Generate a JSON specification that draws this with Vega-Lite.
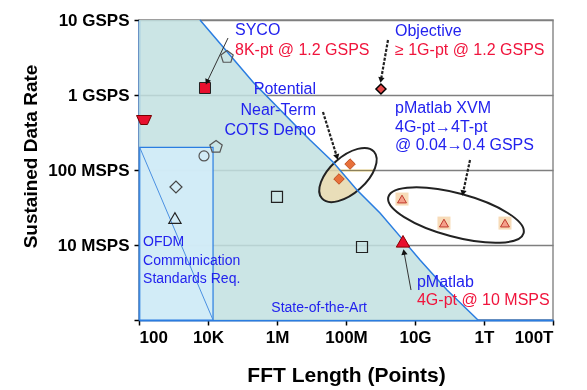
{
  "$schema": "https://vega.github.io/schema/vega-lite/v6.json",
  "width": 414,
  "height": 300,
  "autosize": "none",
  "padding": {"left": 139, "top": 20, "right": 34, "bottom": 70},
  "background": "white",
  "config": {
    "view": {"stroke": "#8c8c8c", "strokeWidth": 1.5},
    "font": "Liberation Sans"
  },
  "encoding": {
    "x": {
      "field": "x", "type": "quantitative",
      "scale": {"type": "log", "domain": [100, 1e14]},
      "axis": {
        "values": [1e2, 1e4, 1e6, 1e8, 1e10, 1e12, 1e14],
        "labelExpr": "['100','10K','1M','100M','10G','1T','100T'][round(log(datum.value)/LN10/2)-1]",
        "grid": false,
        "domainColor": "#2a7de1", "domainWidth": 2,
        "tickColor": "black", "tickSize": 5, "tickWidth": 1.5,
        "labelFont": "Liberation Sans", "labelFontWeight": "bold", "labelFontSize": 17, "labelColor": "black", "labelPadding": 4,
        "title": "FFT Length (Points)",
        "titleFont": "Liberation Sans", "titleFontWeight": "bold", "titleFontSize": 21, "titleColor": "black",
        "titleX": 207, "titleY": 55, "titleBaseline": "middle", "titleAlign": "center"
      }
    },
    "y": {
      "field": "y", "type": "quantitative",
      "scale": {"type": "log", "domain": [1e6, 1e10]},
      "axis": {
        "values": [1e6, 1e7, 1e8, 1e9, 1e10],
        "labelExpr": "['','10 MSPS','100 MSPS','1 GSPS','10 GSPS'][round(log(datum.value)/LN10)-6]",
        "grid": true, "gridColor": "#7f7f7f", "gridWidth": 1.5,
        "domainColor": "#2a7de1", "domainWidth": 2,
        "tickColor": "black", "tickSize": 5, "tickWidth": 1.5,
        "labelFont": "Liberation Sans", "labelFontWeight": "bold", "labelFontSize": 17, "labelColor": "black", "labelPadding": 5,
        "title": "Sustained Data Rate",
        "titleFont": "Liberation Sans", "titleFontWeight": "bold", "titleFontSize": 19, "titleColor": "black",
        "titleX": -109, "titleY": 136, "titleBaseline": "middle", "titleAlign": "center", "titleAngle": -90
      }
    }
  },
  "layer": [
    {
      "data": {"values": [
        {"x": 100, "y": 1e10}, {"x": 5.86e3, "y": 1e10}, {"x": 2.01e5, "y": 1.49e9}, {"x": 3.33e6, "y": 3.98e8},
        {"x": 9.06e6, "y": 2.51e8}, {"x": 4.2e7, "y": 1.28e8}, {"x": 2.08e8, "y": 5.41e7}, {"x": 9.68e8, "y": 2.67e7},
        {"x": 4.49e9, "y": 1.17e7}, {"x": 1.4e10, "y": 6.31e6}, {"x": 8.47e10, "y": 2.51e6}, {"x": 6.7e11, "y": 1e6}
      ]},
      "mark": {"type": "area", "fill": "#c2e0e0", "opacity": 0.85},
      "encoding": {"y2": {"datum": 1e6}}
    },
    {
      "data": {"values": [{"x": 105, "x2": 1.4e4, "y": 2e8, "y2": 1e6}]},
      "mark": {"type": "rect", "fill": "#d3ecf8", "fillOpacity": 0.9, "stroke": "#2a7de1", "strokeWidth": 1.2},
      "encoding": {"x2": {"field": "x2"}, "y2": {"field": "y2"}}
    },
    {
      "data": {"values": [{"x": 105, "y": 2e8}, {"x": 1.4e4, "y": 1e6}]},
      "mark": {"type": "line", "stroke": "#4a90e2", "strokeWidth": 1},
      "encoding": {}
    },
    {
      "data": {"values": [{"x": 1.14e8, "y": 8.57e7}]},
      "mark": {"type": "point", "shape": "M -1 0 A 1 0.52 0 1 1 1 0 A 1 0.52 0 1 1 -1 0 Z", "size": 4900, "angle": 318, "filled": true, "fill": "#c8bd98", "fillOpacity": 1, "strokeWidth": 0, "opacity": 1, "blend": "color"},
      "encoding": {}
    },
    {
      "data": {"values": [{"x": 1.14e8, "y": 8.57e7}]},
      "mark": {"type": "point", "shape": "M -1 0 A 1 0.52 0 1 1 1 0 A 1 0.52 0 1 1 -1 0 Z", "size": 4900, "angle": 318, "filled": false, "stroke": "#222", "strokeWidth": 2, "opacity": 1},
      "encoding": {}
    },
    {
      "data": {"values": [
        {"x": 5.86e3, "y": 1e10}, {"x": 2.01e5, "y": 1.49e9}, {"x": 3.33e6, "y": 3.98e8},
        {"x": 9.06e6, "y": 2.51e8}, {"x": 4.2e7, "y": 1.28e8}, {"x": 2.08e8, "y": 5.41e7}, {"x": 9.68e8, "y": 2.67e7},
        {"x": 4.49e9, "y": 1.17e7}, {"x": 1.4e10, "y": 6.31e6}, {"x": 8.47e10, "y": 2.51e6}, {"x": 6.7e11, "y": 1e6}
      ]},
      "mark": {"type": "line", "stroke": "#2a7de1", "strokeWidth": 1.5},
      "encoding": {}
    },
    {
      "data": {"values": [{"x": 1.54e11, "y": 2.51e7}]},
      "mark": {"type": "point", "shape": "M -1 0 A 1 0.31 0 1 1 1 0 A 1 0.31 0 1 1 -1 0 Z", "size": 19600, "angle": 15, "filled": false, "stroke": "#222", "strokeWidth": 2, "opacity": 1},
      "encoding": {}
    },
    {
      "data": {"values": [{"x": 4.2e9, "y": 4.1e7}, {"x": 6.92e10, "y": 1.96e7}, {"x": 4.06e12, "y": 1.96e7}]},
      "mark": {"type": "point", "shape": "square", "size": 169, "filled": true, "fill": "#f7dbb8", "opacity": 1},
      "encoding": {}
    },
    {
      "data": {"values": [{"x": 4.2e9, "y": 4.1e7}, {"x": 6.92e10, "y": 1.96e7}, {"x": 4.06e12, "y": 1.96e7}]},
      "mark": {"type": "point", "shape": "triangle-up", "size": 80, "filled": true, "fill": "#f4a08a", "stroke": "#c0392b", "strokeWidth": 1, "opacity": 1},
      "encoding": {}
    },
    {
      "data": {"values": [{"x": 1.31e8, "y": 1.2e8}, {"x": 6.27e7, "y": 7.59e7}]},
      "mark": {"type": "point", "shape": "diamond", "size": 110, "filled": true, "fill": "#e8703a", "stroke": "#c05020", "strokeWidth": 1, "opacity": 1},
      "encoding": {}
    },
    {
      "data": {"values": [{"x": 1.03e9, "y": 1.2e9}]},
      "mark": {"type": "point", "shape": "diamond", "size": 100, "filled": true, "fill": "#e84a4a", "stroke": "black", "strokeWidth": 1.5, "opacity": 1},
      "encoding": {}
    },
    {
      "data": {"values": [{"x": 8.18e3, "y": 1.24e9}]},
      "mark": {"type": "point", "shape": "square", "size": 121, "filled": true, "fill": "#e8102e", "stroke": "#222", "strokeWidth": 1, "opacity": 1},
      "encoding": {}
    },
    {
      "data": {"values": [{"x": 140, "y": 4.64e8}]},
      "mark": {"type": "point", "shape": "M -1 -0.6 L 1 -0.6 L 0.45 0.6 L -0.45 0.6 Z", "size": 225, "filled": true, "fill": "#e8102e", "stroke": "#700", "strokeWidth": 1, "opacity": 1},
      "encoding": {}
    },
    {
      "data": {"values": [{"x": 4.49e9, "y": 1.12e7}]},
      "mark": {"type": "point", "shape": "triangle-up", "size": 180, "filled": true, "fill": "#e8102e", "stroke": "#800", "strokeWidth": 1, "opacity": 1},
      "encoding": {}
    },
    {
      "data": {"values": [{"x": 3.56e4, "y": 3.21e9}, {"x": 1.71e4, "y": 2.03e8}]},
      "mark": {"type": "point", "shape": "M 0 -1 L 0.951 -0.309 L 0.588 0.809 L -0.588 0.809 L -0.951 -0.309 Z", "size": 169, "filled": false, "stroke": "#555", "strokeWidth": 1.2, "opacity": 1},
      "encoding": {}
    },
    {
      "data": {"values": [{"x": 7.66e3, "y": 1.54e8}]},
      "mark": {"type": "point", "shape": "circle", "size": 100, "filled": false, "stroke": "#555", "strokeWidth": 1.2, "opacity": 1},
      "encoding": {}
    },
    {
      "data": {"values": [{"x": 1.18e3, "y": 5.93e7}]},
      "mark": {"type": "point", "shape": "diamond", "size": 144, "filled": false, "stroke": "#444", "strokeWidth": 1.2, "opacity": 1},
      "encoding": {}
    },
    {
      "data": {"values": [{"x": 1.10e3, "y": 2.29e7}]},
      "mark": {"type": "point", "shape": "triangle-up", "size": 150, "filled": false, "stroke": "#222", "strokeWidth": 1.2, "opacity": 1},
      "encoding": {}
    },
    {
      "data": {"values": [{"x": 1e6, "y": 4.37e7}, {"x": 2.91e8, "y": 9.4e6}]},
      "mark": {"type": "point", "shape": "square", "size": 121, "filled": false, "stroke": "#222", "strokeWidth": 1.2, "opacity": 1},
      "encoding": {}
    },
    {
      "data": {"values": [
        {"x": 1.65e9, "y": 5.41e9, "x2": 1.03e9, "y2": 1.58e9},
        {"x": 2.15e7, "y": 5.93e8, "x2": 5.48e7, "y2": 1.49e8},
        {"x": 3.93e11, "y": 1.36e8, "x2": 2.46e11, "y2": 4.93e7}
      ]},
      "mark": {"type": "rule", "stroke": "#222", "strokeWidth": 2.2, "strokeDash": [3, 1.5]},
      "encoding": {"x2": {"field": "x2"}, "y2": {"field": "y2"}}
    },
    {
      "data": {"values": [
        {"x": 3.8e4, "y": 5.75e9, "x2": 9.35e3, "y2": 1.49e9},
        {"x": 7.66e9, "y": 2.51e6, "x2": 4.8e9, "y2": 8.07e6}
      ]},
      "mark": {"type": "rule", "stroke": "#333", "strokeWidth": 1},
      "encoding": {"x2": {"field": "x2"}, "y2": {"field": "y2"}}
    },
    {
      "data": {"values": [
        {"x": 9.35e3, "y": 1.49e9, "a": 205},
        {"x": 1.03e9, "y": 1.58e9, "a": 190},
        {"x": 5.48e7, "y": 1.49e8, "a": 163},
        {"x": 2.46e11, "y": 4.93e7, "a": 192},
        {"x": 4.8e9, "y": 8.07e6, "a": 350}
      ]},
      "mark": {"type": "point", "shape": "triangle-up", "size": 40, "filled": true, "fill": "#111", "opacity": 1},
      "encoding": {"angle": {"field": "a", "type": "quantitative", "scale": null}}
    },
    {
      "data": {"values": [
        {"x": 6.07e4, "y": 7.36e9, "t": "SYCO", "c": "#2222ee", "s": 16},
        {"x": 6.07e4, "y": 3.98e9, "t": "8K-pt @ 1.2 GSPS", "c": "#f0143c", "s": 16},
        {"x": 2.63e9, "y": 7.13e9, "t": "Objective", "c": "#2222ee", "s": 16},
        {"x": 2.63e9, "y": 3.98e9, "t": "≥ 1G-pt @ 1.2 GSPS", "c": "#f0143c", "s": 16},
        {"x": 2.63e9, "y": 6.71e8, "t": "pMatlab XVM", "c": "#2222ee", "s": 16},
        {"x": 2.63e9, "y": 3.74e8, "t": "4G-pt→4T-pt", "c": "#2222ee", "s": 16},
        {"x": 2.63e9, "y": 2.15e8, "t": "@ 0.04→0.4 GSPS", "c": "#2222ee", "s": 16},
        {"x": 1.14e10, "y": 3.21e6, "t": "pMatlab", "c": "#2222ee", "s": 16},
        {"x": 1.14e10, "y": 1.85e6, "t": "4G-pt @ 10 MSPS", "c": "#f0143c", "s": 16},
        {"x": 131, "y": 1.1e7, "t": "OFDM", "c": "#2222ee", "s": 14},
        {"x": 131, "y": 6.12e6, "t": "Communication", "c": "#2222ee", "s": 14},
        {"x": 131, "y": 3.52e6, "t": "Standards Req.", "c": "#2222ee", "s": 14}
      ]},
      "mark": {"type": "text", "align": "left", "baseline": "middle", "font": "Liberation Sans"},
      "encoding": {
        "text": {"field": "t"},
        "color": {"field": "c", "type": "nominal", "scale": null},
        "size": {"field": "s", "type": "quantitative", "scale": null}
      }
    },
    {
      "data": {"values": [
        {"x": 1.35e7, "y": 1.2e9, "t": "Potential", "c": "#2222ee", "s": 16},
        {"x": 1.35e7, "y": 6.31e8, "t": "Near-Term", "c": "#2222ee", "s": 16},
        {"x": 1.35e7, "y": 3.41e8, "t": "COTS Demo", "c": "#2222ee", "s": 16},
        {"x": 4.06e8, "y": 1.45e6, "t": "State-of-the-Art", "c": "#2222ee", "s": 14}
      ]},
      "mark": {"type": "text", "align": "right", "baseline": "middle", "font": "Liberation Sans"},
      "encoding": {
        "text": {"field": "t"},
        "color": {"field": "c", "type": "nominal", "scale": null},
        "size": {"field": "s", "type": "quantitative", "scale": null}
      }
    }
  ]
}
